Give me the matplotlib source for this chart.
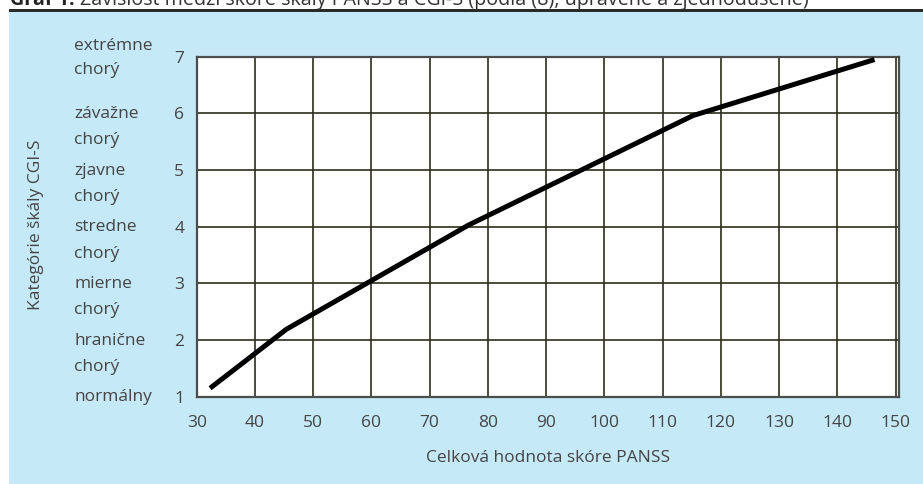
import matplotlib
matplotlib.use("Agg")
import matplotlib.pyplot as plt
import matplotlib.transforms as mtransforms
from matplotlib.patches import Rectangle

# hodnoty odčítané z grafu
panss = [32.3, 45.4, 76.7, 115.2, 146.4]
cgis = [1.15, 2.19, 4.03, 5.96, 6.95]
x_ticks = [30, 40, 50, 60, 70, 80, 90, 100, 110, 120, 130, 140, 150]
y_ticks = [1, 2, 3, 4, 5, 6, 7]
kategorie = ["normálny", "hranične\nchorý", "mierne\nchorý", "stredne\nchorý",
             "zjavne\nchorý", "závažne\nchorý", "extrémne\nchorý"]

plt.rcParams.update({"font.family": ["Open Sans", "DejaVu Sans"], "font.size": 12.5})
TXT = "#444444"
BLUE = "#c6e9f8"

W, H = 923, 484
fig = plt.figure(figsize=(W / 100, H / 100), dpi=100)
fig.patch.set_facecolor("white")

# podklad a linka pod nadpisom (v pixeloch)
px = mtransforms.Affine2D().scale(1 / W, 1 / H) + fig.transFigure
fig.patches.append(Rectangle((9, 0), W - 9, H - 11.3, transform=px,
                             facecolor=BLUE, edgecolor="none", zorder=-10))
fig.patches.append(Rectangle((9, H - 11.5), W - 9, 3.0, transform=px,
                             facecolor="#2a2a2a", edgecolor="none", zorder=-10))

# nadpis (v origináli orezaný hornou hranou)
t1 = fig.text(10 / W, 1 - 5 / H, "Graf 1.", fontsize=14.2, fontweight="bold",
              color="#222222", va="baseline", ha="left")
r = fig.canvas.get_renderer()
bb = t1.get_window_extent(renderer=r)
fig.text(bb.x1 / W + 5 / W, 1 - 5 / H,
         "Závislosť medzi skóre škály PANSS a CGI-S (podľa (8), upravené a zjednodušené)",
         fontsize=14.2, color="#333333", va="baseline", ha="left")

ax = fig.add_axes([196.7 / W, 1 - 396.7 / H, (899 - 196.7) / W, (396.7 - 56.7) / H])
ax.set_zorder(1)
ax.set_facecolor("white")
ax.plot(panss, cgis, color="black", lw=3.6, solid_capstyle="butt", zorder=3)

ax.set_xlim(30.4, 150.6)
ax.set_ylim(1, 7)
ax.set_xticks(x_ticks)
ax.set_yticks(y_ticks)
ax.grid(True, color="#2e2e1a", lw=1.2)
ax.set_axisbelow(True)
for s in ax.spines.values():
    s.set_color("#4d4d4d")
    s.set_linewidth(1.6)
ax.tick_params(length=0, colors=TXT, labelsize=12.5)
ax.tick_params(axis="x", pad=13)
ax.tick_params(axis="y", pad=9)

# slovné kategórie CGI-S vľavo
tr = mtransforms.blended_transform_factory(fig.transFigure, ax.transData)
for y, lab in zip(y_ticks, kategorie):
    lines = lab.split("\n")
    if y == 7:
        offs = [5.0, -12.5]
    else:
        offs = [-3.4, -22.2]
    for line, o in zip(lines, offs):
        ax.annotate(line, xy=(74 / W, y), xycoords=tr, xytext=(0, o),
                    textcoords="offset points", ha="left", va="baseline",
                    color=TXT, fontsize=12.5, annotation_clip=False)

fig.text(36 / W, 1 - 224.5 / H, "Kategórie škály CGI-S", rotation=90,
         ha="center", va="center", color=TXT, fontsize=12.5)
fig.text(548 / W, 1 - 458 / H, "Celková hodnota skóre PANSS",
         ha="center", va="center", color=TXT, fontsize=12.5)

fig.savefig("out.png", dpi=100)
